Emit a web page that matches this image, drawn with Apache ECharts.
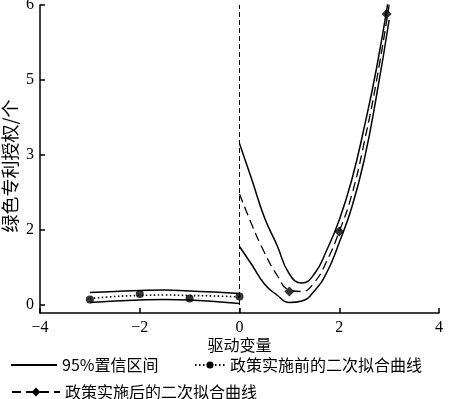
<!DOCTYPE html>
<html>
<head>
<meta charset="utf-8">
<script src="https://cdn.jsdelivr.net/npm/echarts@6/dist/echarts.min.js"></script>
<style>
  html, body { margin: 0; padding: 0; background: #fff; }
  #chart { width: 450px; height: 399px; }
</style>
</head>
<body>
<div id="chart"></div>
<script>
// names
const ciName = "95%置信区间";
const beforeName = "政策实施前的二次拟合曲线";
const afterName = "政策实施后的二次拟合曲线";

// before policy (x < 0)
const beforePointX = [-3, -2, -1, 0];
const beforePointY = [0.11, 0.22, 0.13, 0.17];
const beforeFitX = [-3, -2.5, -2, -1.5, -1, -0.5, 0];
const beforeFitY = [0.13, 0.17, 0.19, 0.2, 0.19, 0.18, 0.16];
const beforeUpper = [0.25, 0.27, 0.29, 0.3, 0.28, 0.26, 0.23];
const beforeLower = [0.05, 0.08, 0.1, 0.11, 0.1, 0.07, 0.03];

// after policy (x >= 0)
const afterPointX = [1, 2, 2.95];
const afterPointY = [0.27, 1.47, 5.82];
const afterFitX = [0, 0.25, 0.5, 0.75, 1, 1.25, 1.5, 1.75, 2, 2.25, 2.5, 2.75, 3];
const afterFitY = [2.22, 1.6, 1.05, 0.6, 0.3, 0.27, 0.45, 0.88, 1.47, 2.2, 3.25, 4.5, 6.0];
const afterUpper = [3.23, 2.5, 1.75, 1.2, 0.62, 0.44, 0.62, 1.1, 1.7, 2.5, 3.55, 4.75, 6.2];
const afterLower = [1.17, 0.8, 0.42, 0.2, 0.05, 0.08, 0.28, 0.65, 1.25, 1.95, 2.9, 4.2, 5.7];

// axis ticks
const yTickValues = [0, 1.5, 3, 4.5, 6];
const yTickLabels = ["0", "2", "3", "5", "6"];

const zip = (xs, ys) => xs.map((x, i) => [x, ys[i]]);

const axisFont = { color: "#000", fontFamily: "Liberation Serif", fontSize: 16 };
const cjkFont = { color: "#000", fontFamily: "Noto Sans CJK SC", fontSize: 16 };
const black = "#000";

const ciLine = (data) => ({
  name: ciName,
  type: "line",
  data: data,
  smooth: 0.5,
  symbol: "none",
  lineStyle: { color: black, width: 1.5, type: "solid" },
  itemStyle: { color: black },
  z: 2,
});

const chart = echarts.init(document.getElementById("chart"));

chart.setOption({
  animation: false,
  grid: { left: 40, right: 11, top: 5, bottom: 86, containLabel: false, outerBoundsMode: "none" },
  xAxis: {
    type: "value",
    min: -4,
    max: 4,
    interval: 2,
    name: "驱动变量",
    nameLocation: "middle",
    nameGap: 24,
    nameMoveOverlap: false,
    nameTextStyle: cjkFont,
    axisLine: { onZero: false, lineStyle: { color: black, width: 1.5 } },
    axisTick: { inside: true, length: 5, lineStyle: { color: black, width: 1.5 } },
    axisLabel: {
      ...axisFont,
      margin: 7,
      formatter: (v) => String(v).replace("-", "\u2212"),
    },
    splitLine: { show: false },
  },
  yAxis: {
    type: "value",
    min: -0.16,
    max: 6,
    name: "绿色专利授权/个",
    nameLocation: "middle",
    nameGap: 21,
    nameMoveOverlap: false,
    nameTextStyle: { ...cjkFont, fontSize: 18, padding: [0, 14, 0, 0] },
    axisLine: { onZero: false, lineStyle: { color: black, width: 1.5 } },
    axisTick: {
      inside: true,
      length: 5,
      customValues: yTickValues,
      lineStyle: { color: black, width: 1.5 },
    },
    axisLabel: {
      ...axisFont,
      margin: 6,
      customValues: yTickValues,
      formatter: (v) => yTickLabels[yTickValues.indexOf(v)],
    },
    splitLine: { show: false },
  },
  legend: [
    {
      data: [{ name: ciName, itemStyle: { opacity: 0 } }],
      left: 10,
      top: 355,
      padding: 0,
      itemWidth: 46,
      itemHeight: 14,
      textStyle: { ...cjkFont, fontSize: 16, lineHeight: 20 },
    },
    {
      data: [beforeName],
      left: 194,
      top: 355,
      padding: 0,
      itemWidth: 30,
      itemHeight: 9,
      textStyle: { ...cjkFont, fontSize: 16, lineHeight: 20 },
    },
    {
      data: [afterName],
      left: 11,
      top: 382,
      padding: 0,
      itemWidth: 48,
      itemHeight: 11,
      textStyle: { ...cjkFont, fontSize: 16, lineHeight: 20 },
    },
  ],
  series: [
    ciLine(zip(beforeFitX, beforeUpper)),
    ciLine(zip(beforeFitX, beforeLower)),
    ciLine(zip(afterFitX, afterUpper)),
    ciLine(zip(afterFitX, afterLower)),
    {
      name: beforeName,
      type: "line",
      data: zip(beforeFitX, beforeFitY),
      smooth: 0.4,
      symbol: "circle",
      symbolSize: 8,
      showSymbol: false,
      lineStyle: { color: black, width: 1.6, type: [1.5, 2.5] },
      itemStyle: { color: black },
      markLine: {
        silent: true,
        symbol: ["none", "none"],
        label: { show: false },
        lineStyle: { color: black, width: 1, type: [5, 3] },
        data: [{ xAxis: 0 }],
      },
      z: 3,
    },
    {
      name: beforeName,
      type: "scatter",
      data: zip(beforePointX, beforePointY),
      symbol: "circle",
      symbolSize: 8,
      itemStyle: { color: black },
      z: 4,
    },
    {
      name: afterName,
      type: "line",
      data: zip(afterFitX, afterFitY),
      smooth: 0.5,
      symbol: "diamond",
      symbolSize: 10,
      showSymbol: false,
      lineStyle: { color: black, width: 1.3, type: [9, 5] },
      itemStyle: { color: black },
      z: 3,
    },
    {
      name: afterName,
      type: "scatter",
      data: zip(afterPointX, afterPointY),
      symbol: "diamond",
      symbolSize: 10,
      itemStyle: { color: black },
      z: 4,
    },
  ],
});
</script>
</body>
</html>
